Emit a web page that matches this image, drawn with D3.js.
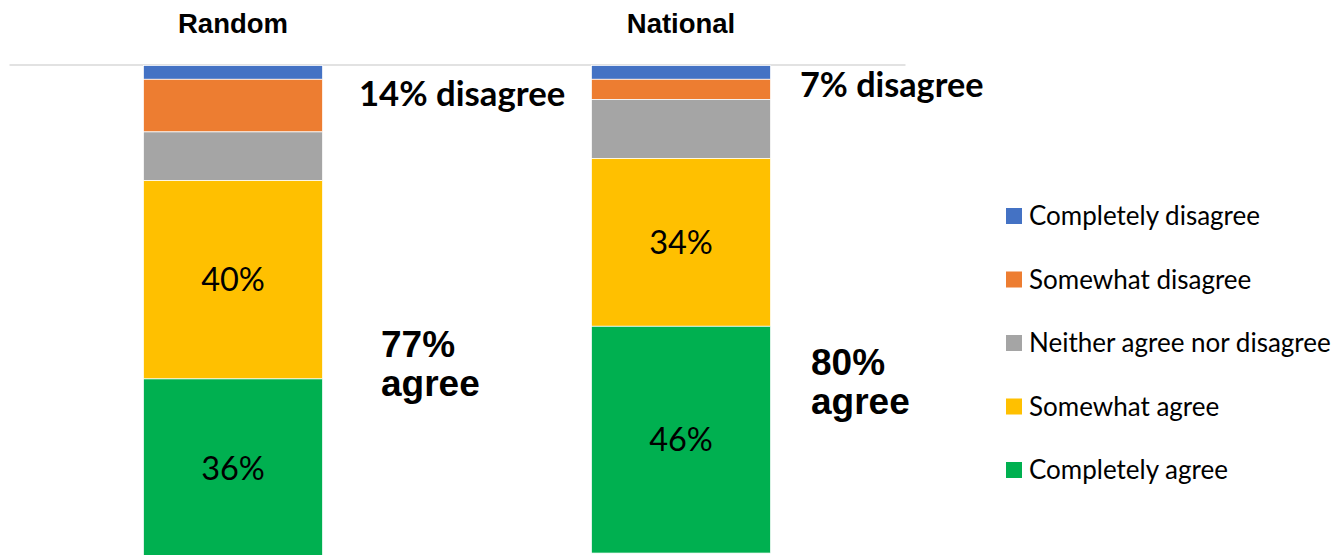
<!DOCTYPE html>
<html>
<head>
<meta charset="utf-8">
<script src="https://cdn.jsdelivr.net/npm/d3@7"></script>
<style>
  html, body { margin: 0; padding: 0; background: #fff; }
  svg { display: block; }
</style>
</head>
<body>
<svg id="chart" width="1337" height="555"></svg>
<script>
// Survey groups and response levels (stacked top to bottom)
const groups = ["Random", "National"];
const levels = ["Completely disagree", "Somewhat disagree", "Neither agree nor disagree", "Somewhat agree", "Completely agree"];
const colors = ["#4472C4", "#ED7D31", "#A5A5A5", "#FFC000", "#00B050"];

// Share of respondents (%) per level, in the order of `levels`
const randomShares = [2.8, 10.7, 9.9, 40.3, 36.3];
const nationalShares = [2.8, 4.1, 12.0, 34.1, 46.1];

// Summary call-outs beside each bar
const disagreeNotes = ["14% disagree", "7% disagree"];
const agreeNotes = [["77%", "agree"], ["80%", "agree"]];

const svg = d3.select("#chart");

const x = d3.scaleBand().domain(groups).range([9, 905]).paddingInner(0.6).paddingOuter(0.3);
const y = d3.scaleLinear().domain([0, 100]).range([65.5, 557.5]);

const rows = groups.map((g, i) => {
  const vals = i === 0 ? randomShares : nationalShares;
  const r = { group: g };
  levels.forEach((l, j) => { r[l] = vals[j]; });
  return r;
});

const stack = d3.stack().keys(levels);
const series = stack(rows);

// Category axis sits along the top
const axisTop = d3.axisTop(x).tickSize(0).tickPadding(0);
const axisG = svg.append("g").attr("transform", "translate(0,64.5)").call(axisTop);
axisG.select(".domain").attr("stroke", "#d9d9d9").attr("stroke-width", 1.6);
axisG.selectAll(".tick text")
  .attr("y", -32)
  .attr("font-family", "'Liberation Sans Narrow', 'Liberation Sans', Arial, sans-serif")
  .attr("font-weight", "bold")
  .attr("font-size", 27.5)
  .attr("fill", "#000");

// Stacked segments
const layer = svg.append("g").selectAll("g").data(series).join("g")
  .attr("fill", (d, i) => colors[i]);
layer.selectAll("rect").data(d => d).join("rect")
  .attr("x", d => x(d.data.group))
  .attr("width", x.bandwidth())
  .attr("y", d => y(d[0]))
  .attr("height", d => y(d[1]) - y(d[0]))
  .attr("stroke", "#fff")
  .attr("stroke-width", 0.75);

// Value labels on the two agree segments
series.forEach((s, i) => {
  if (i < 3) return;
  svg.append("g").selectAll("text").data(s).join("text")
    .attr("x", d => x(d.data.group) + x.bandwidth() / 2)
    .attr("y", d => (y(d[0]) + y(d[1])) / 2)
    .attr("dy", "0.36em")
    .attr("text-anchor", "middle")
    .attr("font-family", "Lato, 'Open Sans', sans-serif")
    .attr("font-size", 32.5)
    .attr("fill", "#000")
    .text(d => Math.round(d[1] - d[0]) + "%");
});

// Call-outs
const noteX = [359, 800];
const noteY = [106, 97];
const noteSize = [34.7, 34.2];
groups.forEach((g, i) => {
  svg.append("text")
    .attr("x", noteX[i]).attr("y", noteY[i])
    .attr("font-family", "Lato, sans-serif")
    .attr("font-weight", "bold")
    .attr("font-size", noteSize[i])
    .attr("fill", "#000")
    .text(disagreeNotes[i]);
});
const agreeX = [381, 811];
const agreeY = [357, 375];
groups.forEach((g, i) => {
  const t = svg.append("text")
    .attr("x", agreeX[i]).attr("y", agreeY[i])
    .attr("font-family", "'Liberation Sans', Arial, sans-serif")
    .attr("font-weight", "bold")
    .attr("font-size", 37)
    .attr("fill", "#000");
  agreeNotes[i].forEach((line, k) => {
    t.append("tspan").attr("x", agreeX[i]).attr("dy", k === 0 ? 0 : 39).text(line);
  });
});

// Legend
const legend = svg.append("g").attr("transform", "translate(1006,0)");
const legendY = d3.scalePoint().domain(levels).range([216, 470]);
levels.forEach((l, i) => {
  const g = legend.append("g").attr("transform", `translate(0,${legendY(l)})`);
  g.append("rect").attr("x", 0).attr("y", -8).attr("width", 16).attr("height", 16).attr("fill", colors[i]);
  g.append("text").attr("x", 23).attr("y", 0).attr("dy", "0.36em")
    .attr("font-family", "Lato, 'Open Sans', sans-serif")
    .attr("font-size", 26)
    .attr("fill", "#000")
    .text(l);
});
</script>
</body>
</html>
